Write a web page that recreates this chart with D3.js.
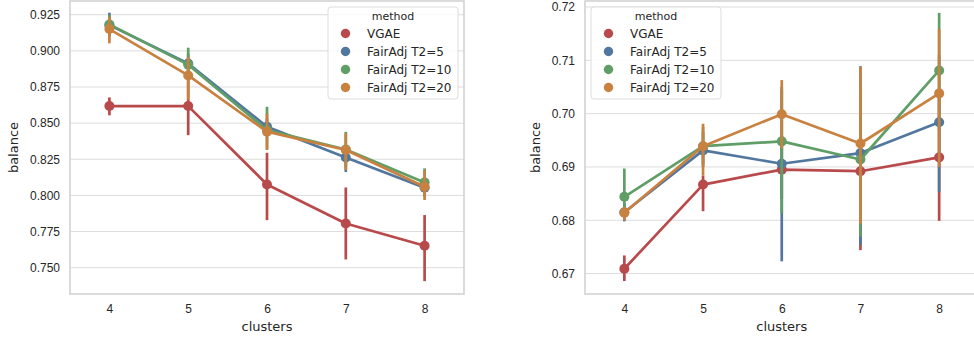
<!DOCTYPE html>
<html>
<head>
<meta charset="utf-8">
<script src="https://cdn.jsdelivr.net/npm/d3@7"></script>
<style>
  html, body { margin: 0; padding: 0; background: #fff; }
  svg { display: block; font-family: "DejaVu Sans", sans-serif; }
  .tick text { fill: #262626; }
</style>
</head>
<body>
<svg id="chart" width="974" height="341"></svg>
<script>
// categories and series
const clusters = [4, 5, 6, 7, 8];
const methods = ['VGAE', 'FairAdj T2=5', 'FairAdj T2=10', 'FairAdj T2=20'];
const palette = ['#b94a4c', '#51779f', '#609e68', '#c98140'];

// left panel: means and [lo, hi] error bars per method
const leftVgae = [0.8618, 0.8618, 0.8076, 0.7806, 0.7652];
const leftVgaeCI = [[0.8554, 0.8678], [0.8417, 0.880], [0.7829, 0.8295], [0.7557, 0.8055], [0.7407, 0.7864]];
const leftT5 = [0.9178, 0.8913, 0.8475, 0.8262, 0.8053];
const leftT5CI = [[0.910, 0.9264], [0.884, 0.898], [0.842, 0.853], [0.8162, 0.832], [0.799, 0.812]];
const leftT10 = [0.9183, 0.8905, 0.8452, 0.8318, 0.8090];
const leftT10CI = [[0.911, 0.925], [0.880, 0.9022], [0.832, 0.8613], [0.820, 0.844], [0.800, 0.8187]];
const leftT20 = [0.9151, 0.8830, 0.8441, 0.8314, 0.8060];
const leftT20CI = [[0.9052, 0.9236], [0.8659, 0.8959], [0.8314, 0.8567], [0.8175, 0.8429], [0.7968, 0.8175]];
const leftTicks = [0.750, 0.775, 0.800, 0.825, 0.850, 0.875, 0.900, 0.925];

// right panel
const rightVgae = [0.6709, 0.6867, 0.6895, 0.6892, 0.6918];
const rightVgaeCI = [[0.6686, 0.6734], [0.6817, 0.6884], [0.684, 0.695], [0.6744, 0.703], [0.6799, 0.7035]];
const rightT5 = [0.6815, 0.6931, 0.6906, 0.6926, 0.6984];
const rightT5CI = [[0.6798, 0.6832], [0.690, 0.6965], [0.6723, 0.705], [0.6753, 0.7089], [0.6853, 0.711]];
const rightT10 = [0.6844, 0.6939, 0.6948, 0.6914, 0.7081];
const rightT10CI = [[0.6822, 0.6897], [0.6905, 0.6975], [0.6813, 0.7045], [0.6769, 0.7055], [0.697, 0.7189]];
const rightT20 = [0.6814, 0.6939, 0.6999, 0.6944, 0.7038];
const rightT20CI = [[0.6800, 0.6825], [0.6884, 0.6981], [0.6935, 0.7063], [0.6794, 0.7088], [0.690, 0.7159]];
const rightTicks = [0.67, 0.68, 0.69, 0.70, 0.71, 0.72];

const svg = d3.select('#chart');

function drawPanel(opt) {
  const { left, right, top, bottom, yDomain, ticks, fmt, series, legend } = opt;

  const x = d3.scalePoint().domain(clusters).range([left, right]).padding(0.5);
  const y = d3.scaleLinear().domain(yDomain).range([bottom, top]);

  const g = svg.append('g');

  // horizontal grid
  g.selectAll('.grid')
    .data(ticks)
    .enter().append('line')
    .attr('x1', left).attr('x2', right)
    .attr('y1', d => y(d)).attr('y2', d => y(d))
    .attr('stroke', '#dcdcdc')
    .attr('stroke-width', 1);

  // frame
  g.append('rect')
    .attr('x', left).attr('y', top)
    .attr('width', right - left).attr('height', bottom - top)
    .attr('fill', 'none')
    .attr('stroke', '#cfcfcf')
    .attr('stroke-width', 1.5);

  // axes (labels only, no tick marks)
  g.append('g')
    .attr('transform', `translate(${left},0)`)
    .call(d3.axisLeft(y).tickValues(ticks).tickFormat(fmt).tickSize(0).tickPadding(10))
    .call(a => a.select('.domain').remove())
    .selectAll('text')
    .attr('font-size', 12);

  g.append('g')
    .attr('transform', `translate(0,${bottom})`)
    .call(d3.axisBottom(x).tickSize(0).tickPadding(10))
    .call(a => a.select('.domain').remove())
    .selectAll('text')
    .attr('font-size', 12);

  g.append('text')
    .attr('x', x(clusters[2]))
    .attr('y', 331)
    .attr('text-anchor', 'middle')
    .attr('font-size', 13)
    .attr('fill', '#262626')
    .text('clusters');

  g.append('text')
    .attr('transform', `translate(${opt.ylabelX},${(top + bottom) / 2}) rotate(-90)`)
    .attr('text-anchor', 'middle')
    .attr('font-size', 13)
    .attr('fill', '#262626')
    .text('balance');

  // series: line, then error bars, then points (seaborn pointplot order)
  const line = d3.line().x((d, i) => x(clusters[i])).y(d => y(d));
  series.forEach((s, k) => {
    const col = palette[k];
    g.append('path')
      .datum(s.mean)
      .attr('d', line)
      .attr('fill', 'none')
      .attr('stroke', col)
      .attr('stroke-width', 2.7)
      .attr('stroke-linejoin', 'round');

    g.selectAll(null)
      .data(s.ci)
      .enter().append('line')
      .attr('x1', (d, i) => x(clusters[i]))
      .attr('x2', (d, i) => x(clusters[i]))
      .attr('y1', d => y(d[0]))
      .attr('y2', d => y(d[1]))
      .attr('stroke', col)
      .attr('stroke-width', 2.7);

    g.selectAll(null)
      .data(s.mean)
      .enter().append('circle')
      .attr('cx', (d, i) => x(clusters[i]))
      .attr('cy', d => y(d))
      .attr('r', 5)
      .attr('fill', col);
  });

  // legend
  const lg = g.append('g').attr('transform', `translate(${legend.x},${legend.y})`);
  lg.append('rect')
    .attr('width', legend.w).attr('height', 92)
    .attr('rx', 3)
    .attr('fill', '#fff')
    .attr('fill-opacity', 0.85)
    .attr('stroke', '#dddddd');
  lg.append('text')
    .attr('x', legend.w / 2).attr('y', 13)
    .attr('text-anchor', 'middle')
    .attr('font-size', 11)
    .attr('fill', '#262626')
    .text('method');
  const item = lg.selectAll('.item')
    .data(methods)
    .enter().append('g')
    .attr('transform', (d, i) => `translate(0,${26.5 + i * 18})`);
  item.append('circle')
    .attr('cx', 17.5).attr('cy', 0).attr('r', 4.7)
    .attr('fill', (d, i) => palette[i]);
  item.append('text')
    .attr('x', 39).attr('y', 4.3)
    .attr('font-size', 12)
    .attr('fill', '#262626')
    .text(d => d);
}

drawPanel({
  left: 70, right: 464, top: 1, bottom: 294,
  yDomain: [0.7318, 0.9345],
  ticks: leftTicks,
  fmt: d3.format('.3f'),
  ylabelX: 18,
  legend: { x: 328, y: 7, w: 130 },
  series: [
    { mean: leftVgae, ci: leftVgaeCI },
    { mean: leftT5, ci: leftT5CI },
    { mean: leftT10, ci: leftT10CI },
    { mean: leftT20, ci: leftT20CI }
  ]
});

// right axes run past the window edge, as in the reference
drawPanel({
  left: 585, right: 978.5, top: 1, bottom: 294,
  yDomain: [0.66617, 0.72113],
  ticks: rightTicks,
  fmt: d3.format('.2f'),
  ylabelX: 540,
  legend: { x: 591, y: 7, w: 130 },
  series: [
    { mean: rightVgae, ci: rightVgaeCI },
    { mean: rightT5, ci: rightT5CI },
    { mean: rightT10, ci: rightT10CI },
    { mean: rightT20, ci: rightT20CI }
  ]
});
</script>
</body>
</html>
